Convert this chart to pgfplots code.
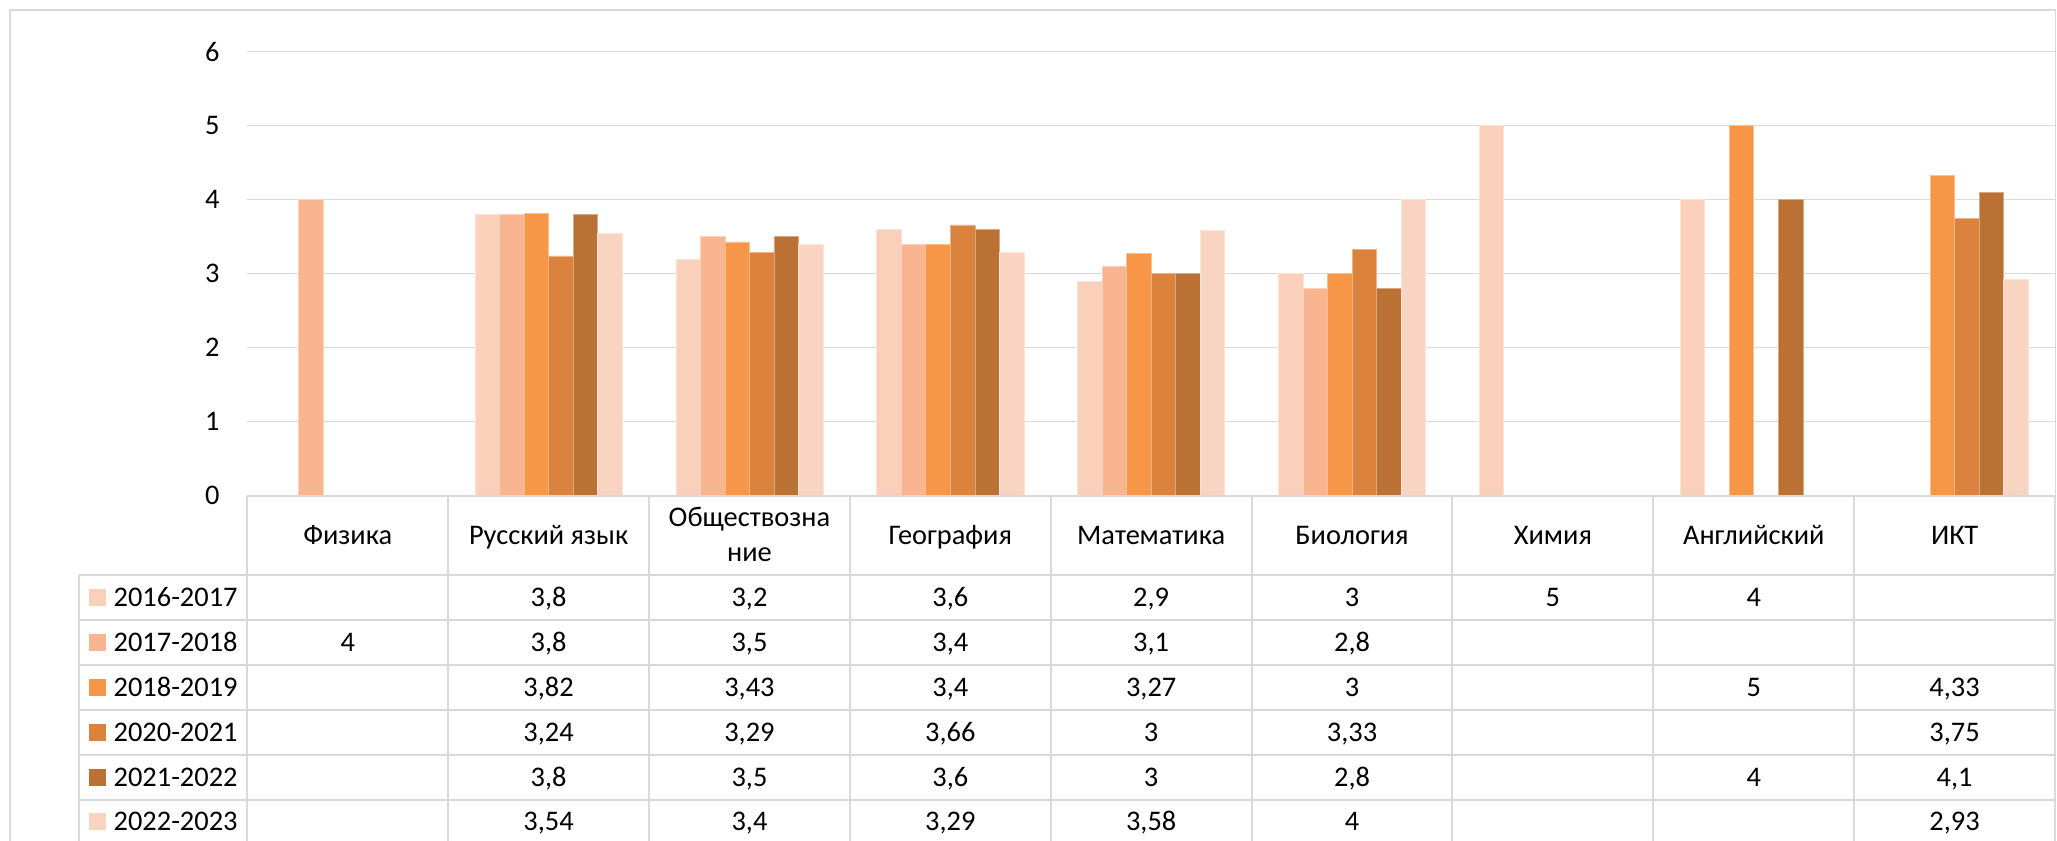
\documentclass[border=0pt]{standalone}
\usepackage{pgfplots}
\pgfplotsset{compat=1.18}
\usepackage{fontspec}
\setmainfont{Carlito}
\definecolor{cA}{HTML}{FBD0BB}
\definecolor{cB}{HTML}{F8B58F}
\definecolor{cC}{HTML}{F79646}
\definecolor{cD}{HTML}{DB833D}
\definecolor{cE}{HTML}{BA7133}
\definecolor{cF}{HTML}{F9D4C2}
\definecolor{gridc}{HTML}{D9D9D9}
\newcommand{\tf}{\fontsize{14.2pt}{17pt}\selectfont}
\begin{document}
\tf
\begin{tikzpicture}[font=\tf]
\path[use as bounding box] (0,0) rectangle (1028.5pt,-420.5pt);
\clip (0,0) rectangle (1028.5pt,-420.5pt);
\begin{axis}[
  at={(123.65pt,-247.85pt)}, anchor=south west,
  scale only axis, width=903.85pt, height=222pt,
  xmin=-0.5, xmax=8.5, ymin=0, ymax=6,
  ytick={0,1,2,3,4,5,6}, xtick=\empty,
  ymajorgrids, grid style={gridc, line width=0.7pt},
  axis line style={draw=none},
  major tick length=0pt,
  yticklabel style={anchor=east, inner sep=0pt, xshift=-13.65pt, font=\tf},
  /pgf/number format/assume math mode=true,
]
\addplot[ybar, bar width=12.27pt, bar shift=-30.675pt, fill=cA, draw=white!40!cA, line width=0.3pt]
  coordinates {(1,3.8)(2,3.2)(3,3.6)(4,2.9)(5,3)(6,5)(7,4)};
\addplot[ybar, bar width=12.27pt, bar shift=-18.405pt, fill=cB, draw=white!40!cB, line width=0.3pt]
  coordinates {(0,4)(1,3.8)(2,3.5)(3,3.4)(4,3.1)(5,2.8)};
\addplot[ybar, bar width=12.27pt, bar shift=-6.135pt, fill=cC, draw=white!40!cC, line width=0.3pt]
  coordinates {(1,3.82)(2,3.43)(3,3.4)(4,3.27)(5,3)(7,5)(8,4.33)};
\addplot[ybar, bar width=12.27pt, bar shift=6.135pt, fill=cD, draw=white!40!cD, line width=0.3pt]
  coordinates {(1,3.24)(2,3.29)(3,3.66)(4,3)(5,3.33)(8,3.75)};
\addplot[ybar, bar width=12.27pt, bar shift=18.405pt, fill=cE, draw=white!40!cE, line width=0.3pt]
  coordinates {(1,3.8)(2,3.5)(3,3.6)(4,3)(5,2.8)(7,4)(8,4.1)};
\addplot[ybar, bar width=12.27pt, bar shift=30.675pt, fill=cF, draw=white!40!cF, line width=0.3pt]
  coordinates {(1,3.54)(2,3.4)(3,3.29)(4,3.58)(5,4)(8,2.93)};
\end{axis}
\begin{scope}[x=0.5pt,y=-0.5pt]
  % chart border
  \draw[gridc, line width=0.8pt] (10,10) rectangle (2055.5,900);
  % table lines
  \draw[gridc, line width=1pt] (247.3,495.7) -- (2055.5,495.7);
  \foreach \yy in {575,619.9,664.8,709.7,754.6,799.5,844.4}
    \draw[gridc, line width=1pt] (79.3,\yy) -- (2055.5,\yy);
  \draw[gridc, line width=1pt] (79.3,575) -- (79.3,900);
  \foreach \k in {0,...,9}
    \draw[gridc, line width=1pt] ({247.3+200.86*\k},495.7) -- ({247.3+200.86*\k},900);
  % category names
  \foreach \k/\t in {0/Физика,1/Русский язык,3/География,4/Математика,5/Биология,6/Химия,7/Английский,8/ИКТ}
    \node[anchor=base, inner sep=0pt] at ({347.73+200.86*\k},544) {\t};
  \node[anchor=base, inner sep=0pt] at ({347.73+200.86*2},526) {Обществозна};
  \node[anchor=base, inner sep=0pt] at ({347.73+200.86*2},561.7) {ние};
  % legend keys
  \foreach \r/\c/\t in {0/cA/2016-2017,1/cB/2017-2018,2/cC/2018-2019,3/cD/2020-2021,4/cE/2021-2022,5/cF/2022-2023}{
    \fill[\c] (89,{597.45+44.9*\r-8.5}) rectangle (106,{597.45+44.9*\r+8.5});
    \node[anchor=base west, inner sep=0pt] at (113.3,{606.45+44.9*\r}) {\t};
  }
  % table values
  \foreach \r/\k/\v in {
     0/1/{3,8},0/2/{3,2},0/3/{3,6},0/4/{2,9},0/5/{3},0/6/{5},0/7/{4},
     1/0/{4},1/1/{3,8},1/2/{3,5},1/3/{3,4},1/4/{3,1},1/5/{2,8},
     2/1/{3,82},2/2/{3,43},2/3/{3,4},2/4/{3,27},2/5/{3},2/7/{5},2/8/{4,33},
     3/1/{3,24},3/2/{3,29},3/3/{3,66},3/4/{3},3/5/{3,33},3/8/{3,75},
     4/1/{3,8},4/2/{3,5},4/3/{3,6},4/4/{3},4/5/{2,8},4/7/{4},4/8/{4,1},
     5/1/{3,54},5/2/{3,4},5/3/{3,29},5/4/{3,58},5/5/{4},5/8/{2,93}}
    \node[anchor=base, inner sep=0pt] at ({347.73+200.86*\k},{606.45+44.9*\r}) {\v};
\end{scope}
\end{tikzpicture}
\end{document}
